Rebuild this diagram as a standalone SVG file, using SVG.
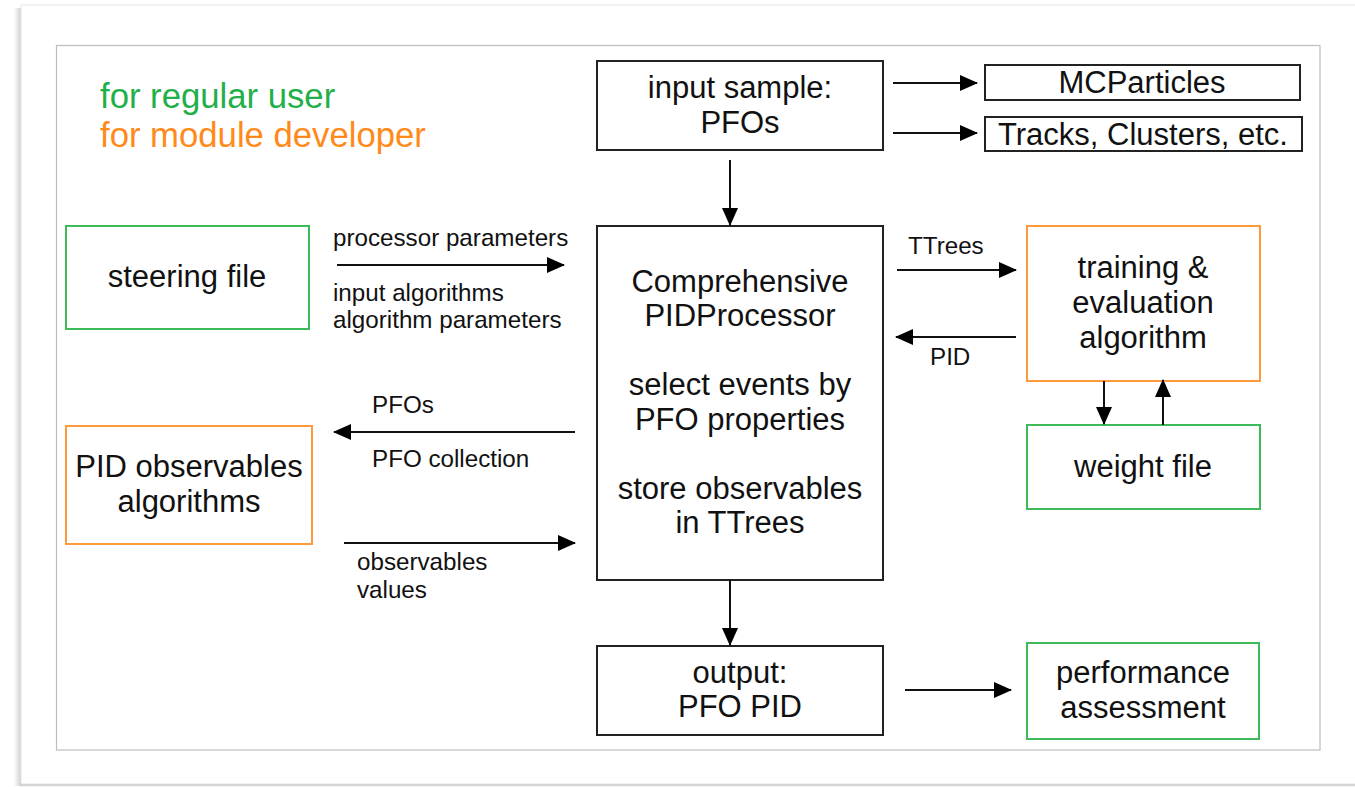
<svg xmlns="http://www.w3.org/2000/svg" width="1355" height="787" viewBox="0 0 1355 787">
<style>
text{font-family:"Liberation Sans",Arial,sans-serif;fill:#111;}
.big{font-size:31px;text-anchor:middle;}
.lbl{font-size:24.2px;}
.leg{font-size:34.7px;}
.bk{fill:#fff;stroke:#222;stroke-width:2;}
.gr{fill:#fff;stroke:#3fba58;stroke-width:2;}
.or{fill:#fff;stroke:#ff9a3c;stroke-width:2;}
.ln{stroke:#111;stroke-width:2;fill:none;marker-end:url(#ah);}
</style>
<defs>
<marker id="ah" markerWidth="18" markerHeight="16" refX="17" refY="8" orient="auto" markerUnits="userSpaceOnUse">
<path d="M0,0 L18,8 L0,16 Z" fill="#000"/>
</marker>
<linearGradient id="shl" x1="0" x2="1" y1="0" y2="0"><stop offset="0" stop-color="#fff"/><stop offset="1" stop-color="#c8c8c8"/></linearGradient>
<linearGradient id="shb" x1="0" x2="0" y1="0" y2="1"><stop offset="0" stop-color="#999"/><stop offset="1" stop-color="#fff"/></linearGradient>
</defs>
<rect width="1355" height="787" fill="#fff"/>
<g id="page">
<rect x="14" y="8" width="8" height="778" fill="url(#shl)"/>
<rect x="20" y="783" width="1335" height="4" fill="url(#shb)"/>
<rect x="21" y="5" width="1340" height="779" fill="#fff" stroke="#e6e6e6" stroke-width="1"/>
<rect x="56.5" y="45.5" width="1263.5" height="704.5" fill="#fff" stroke="#bdbdbd" stroke-width="1.2"/>
</g>
<g id="legend">
<text class="leg" x="100" y="108" style="fill:#1fb04a">for regular user</text>
<text class="leg" x="100" y="147" style="fill:#ff8a1a">for module developer</text>
</g>
<g id="input">
<rect class="bk" x="597" y="61" width="286" height="89"/>
<text class="big" x="740" y="98">input sample:</text>
<text class="big" x="740" y="133">PFOs</text>
</g>
<g id="mcparticles">
<rect class="bk" x="985" y="65" width="315" height="35"/>
<text class="big" x="1142" y="93">MCParticles</text>
</g>
<g id="tracks">
<rect class="bk" x="985" y="117" width="317" height="34"/>
<text class="big" x="1143" y="145">Tracks, Clusters, etc.</text>
</g>
<g id="processor">
<rect class="bk" x="597" y="226" width="286" height="354"/>
<text class="big" x="740" y="292">Comprehensive</text>
<text class="big" x="740" y="326">PIDProcessor</text>
<text class="big" x="740" y="395">select events by</text>
<text class="big" x="740" y="430">PFO properties</text>
<text class="big" x="740" y="499">store observables</text>
<text class="big" x="740" y="533">in TTrees</text>
</g>
<g id="steering">
<rect class="gr" x="66" y="226" width="243" height="103"/>
<text class="big" x="187" y="287">steering file</text>
</g>
<g id="observables">
<rect class="or" x="66" y="426" width="246" height="118"/>
<text class="big" x="189" y="477">PID observables</text>
<text class="big" x="189" y="512">algorithms</text>
</g>
<g id="training">
<rect class="or" x="1027" y="226" width="233" height="155"/>
<text class="big" x="1143" y="278">training &amp;</text>
<text class="big" x="1143" y="313">evaluation</text>
<text class="big" x="1143" y="348">algorithm</text>
</g>
<g id="weight">
<rect class="gr" x="1027" y="425" width="233" height="84"/>
<text class="big" x="1143" y="477">weight file</text>
</g>
<g id="output">
<rect class="bk" x="597" y="646" width="286" height="89"/>
<text class="big" x="740" y="683">output:</text>
<text class="big" x="740" y="717">PFO PID</text>
</g>
<g id="performance">
<rect class="gr" x="1027" y="643" width="232" height="96"/>
<text class="big" x="1143" y="683">performance</text>
<text class="big" x="1143" y="718">assessment</text>
</g>
<g id="connectors">
<line class="ln" x1="893" y1="83" x2="977" y2="83"/>
<line class="ln" x1="893" y1="133" x2="977" y2="133"/>
<line class="ln" x1="730" y1="160" x2="730" y2="225"/>
<line class="ln" x1="337" y1="265" x2="564" y2="265"/>
<line class="ln" x1="897" y1="270" x2="1016" y2="270"/>
<line class="ln" x1="1016" y1="337" x2="896" y2="337"/>
<line class="ln" x1="575" y1="432" x2="334" y2="432"/>
<line class="ln" x1="344" y1="543" x2="575" y2="543"/>
<line class="ln" x1="1104" y1="381" x2="1104" y2="424"/>
<line class="ln" x1="1163" y1="425" x2="1163" y2="380"/>
<line class="ln" x1="730" y1="580" x2="730" y2="645"/>
<line class="ln" x1="905" y1="690" x2="1011" y2="690"/>
<text class="lbl" x="333" y="246">processor parameters</text>
<text class="lbl" x="333" y="301">input algorithms</text>
<text class="lbl" x="333" y="328">algorithm parameters</text>
<text class="lbl" x="908" y="254">TTrees</text>
<text class="lbl" x="930" y="365">PID</text>
<text class="lbl" x="372" y="413">PFOs</text>
<text class="lbl" x="372" y="467">PFO collection</text>
<text class="lbl" x="357" y="570">observables</text>
<text class="lbl" x="357" y="598">values</text>
</g>
</svg>
